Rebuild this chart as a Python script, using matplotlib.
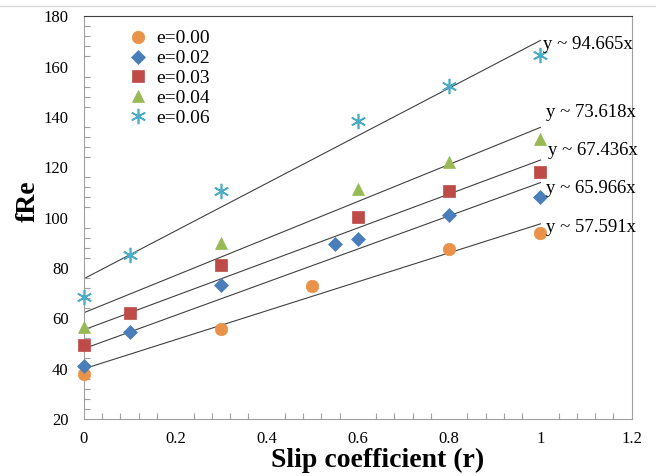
import matplotlib.pyplot as plt
import numpy as np
from matplotlib.ticker import MultipleLocator
from matplotlib.lines import Line2D

plt.rcParams['font.family'] = ['Liberation Serif', 'DejaVu Serif']

# measured points for each eccentricity
x_e000 = [0, 0.3, 0.5, 0.8, 1.0]
y_e000 = [37.9, 55.8, 72.9, 87.6, 94.0]

x_e002 = [0, 0.1, 0.3, 0.55, 0.6, 0.8, 1.0]
y_e002 = [41.1, 54.6, 73.3, 89.6, 91.5, 101.0, 108.2]

x_e003 = [0, 0.1, 0.3, 0.6, 0.8, 1.0]
y_e003 = [49.5, 62.2, 81.2, 100.4, 110.4, 118.2]

x_e004 = [0, 0.3, 0.6, 0.8, 1.0]
y_e004 = [56.6, 90.0, 111.4, 122.2, 131.2]

x_e006 = [0, 0.1, 0.3, 0.6, 0.8, 1.0]
y_e006 = [68.6, 85.3, 110.4, 138.4, 152.3, 164.4]

# trend lines (slope from the labels, intercept)
slopes = [57.591, 65.966, 67.436, 73.618, 94.665]
intercepts = [39.9, 47.9, 55.4, 62.2, 75.7]
# label positions
label_x = [1.012, 1.012, 1.017, 1.012, 1.006]
label_y = [96.0, 111.5, 126.7, 141.8, 168.9]

labels = ["e=0.00", "e=0.02", "e=0.03", "e=0.04", "e=0.06"]
colors = ["#E8924A", "#4A7EBB", "#BE4B48", "#98B954", "#4BACC6"]
markers = ["o", "D", "s", "^", (6, 2, 0)]
sizes = [9, 7.5, 9, 9, 11]

xs = [x_e000, x_e002, x_e003, x_e004, x_e006]
ys = [y_e000, y_e002, y_e003, y_e004, y_e006]

fig = plt.figure(figsize=(6.56, 4.76), dpi=100)
ax = fig.add_axes([0.128, 0.12, 0.835, 0.846])

line_x = np.array([0, 1.0])
for k in range(5):
    ax.plot(line_x, intercepts[k] + slopes[k] * line_x, color="#404040", lw=0.8, zorder=1)

for k in range(5):
    ax.plot(xs[k], ys[k], linestyle="none", marker=markers[k], color=colors[k],
            markersize=sizes[k], markeredgewidth=1.2 if k == 4 else 0.5,
            markeredgecolor=colors[k], label=labels[k], zorder=3, clip_on=False)

for k in range(5):
    ax.text(label_x[k], label_y[k], f"y ~ {slopes[k]:.3f}x", fontsize=13.5,
            va="center", ha="left", zorder=4)

ax.set_xlim(0, 1.2)
ax.set_ylim(20, 180)
ax.xaxis.set_minor_locator(MultipleLocator(0.04))
ax.yaxis.set_major_locator(MultipleLocator(20))
ax.yaxis.set_minor_locator(MultipleLocator(4))
ax.set_xticks(np.arange(0, 1.21, 0.2))
ax.set_xticklabels(["0", "0.2", "0.4", "0.6", "0.8", "1", "1.2"])
ax.tick_params(which="major", length=0, labelsize=12, pad=9)
ax.tick_params(axis="y", which="major", pad=11)
ax.tick_params(which="minor", direction="in", length=4, color="#A0A0A0", width=0.8)

for side in ["left", "bottom", "right"]:
    ax.spines[side].set_color("#A0A0A0")
ax.spines["top"].set_color("#404040")

ax.set_xlabel("Slip coefficient (r)", fontsize=20, fontweight="bold", va="center")
ax.xaxis.set_label_coords(0.536, -0.104)
ax.set_ylabel("fRe", fontsize=20, fontweight="bold", va="center")
ax.yaxis.set_label_coords(-0.102, 0.541)

ax.legend(loc="upper left", bbox_to_anchor=(0.056, 1.0), frameon=False, fontsize=14,
          handlelength=1.0, handletextpad=0.43, labelspacing=0.12, borderaxespad=0.3)

fig.add_artist(Line2D([0, 1], [0.988, 0.988], color="#D9D9D9", lw=1, transform=fig.transFigure))

fig.savefig("out.png", dpi=100)
